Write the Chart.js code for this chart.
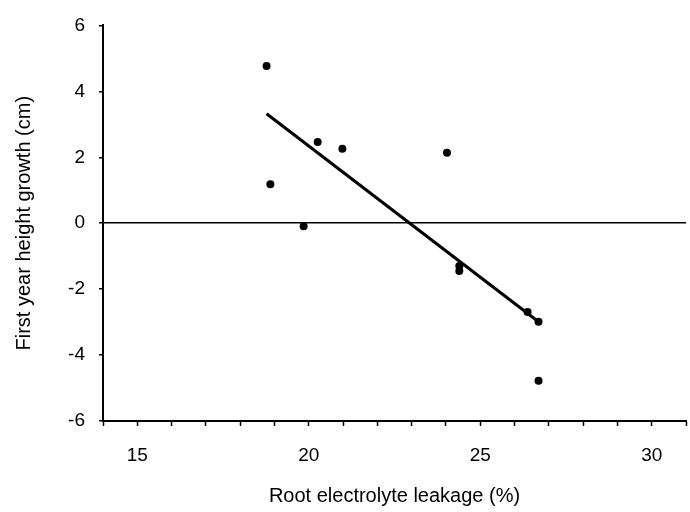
<!DOCTYPE html>
<html>
<head>
<meta charset="utf-8">
<script src="https://cdn.jsdelivr.net/npm/chart.js@4"></script>
<style>
  body { margin: 0; background: #fff; }
  #wrap { width: 690px; height: 512px; }
</style>
</head>
<body>
<div id="wrap"><canvas id="chart" width="690" height="512"></canvas></div>
<script>
// leakage (%) vs first year height growth (cm)
const leakage = [18.77, 18.88, 19.85, 20.26, 20.98, 24.03, 24.39, 24.39, 26.38, 26.7, 26.7];
const growth = [4.77, 1.18, -0.09, 2.46, 2.26, 2.14, -1.3, -1.45, -2.69, -2.99, -4.78];

// fitted line ends
const fitX = [18.77, 26.7];
const fitY = [3.32, -2.99];

const xLabels = [15, 20, 25, 30];
const yLabels = [-6, -4, -2, 0, 2, 4, 6];

const font = { family: 'Liberation Sans, Arial, sans-serif', size: 19 };
const titleFont = { family: 'Liberation Sans, Arial, sans-serif', size: 20 };

const points = leakage.map((x, i) => ({ x: x, y: growth[i] }));
const fitLine = fitX.map((x, i) => ({ x: x, y: fitY[i] }));

new Chart(document.getElementById('chart'), {
  type: 'scatter',
  data: {
    datasets: [
      {
        data: points,
        pointRadius: 4,
        pointBackgroundColor: '#000',
        pointBorderWidth: 0
      },
      {
        type: 'line',
        data: fitLine,
        borderColor: '#000',
        borderWidth: 3,
        pointRadius: 0
      }
    ]
  },
  options: {
    responsive: false,
    animation: false,
    layout: { padding: { top: 25, right: 0, left: 8, bottom: 0 } },
    plugins: { legend: { display: false }, tooltip: { enabled: false } },
    scales: {
      x: {
        type: 'linear',
        min: 14,
        max: 31,
        border: { display: true, color: '#000', width: 2 },
        grid: { drawOnChartArea: false, drawTicks: true, tickLength: 5, tickColor: '#000', tickWidth: 1.5 },
        ticks: {
          stepSize: 1,
          autoSkip: false,
          maxRotation: 0,
          color: '#000',
          font: font,
          padding: 18,
          callback: v => xLabels.includes(v) ? String(v) : ''
        },
        title: {
          display: true,
          text: 'Root electrolyte leakage (%)',
          color: '#000',
          font: titleFont,
          padding: { top: 16 }
        },
        afterFit: s => { s.height = 91; s.paddingRight = 0; }
      },
      y: {
        min: -6,
        max: 6,
        border: { display: true, color: '#000', width: 2 },
        grid: {
          drawOnChartArea: true,
          color: c => c.tick && c.tick.value === 0 ? '#000' : 'rgba(0,0,0,0)',
          lineWidth: 1.5,
          drawTicks: true,
          tickLength: 4,
          tickColor: '#000'
        },
        ticks: {
          stepSize: 2,
          color: '#000',
          font: font,
          padding: 14,
          callback: v => yLabels.includes(v) ? String(v) : ''
        },
        title: {
          display: true,
          text: 'First year height growth (cm)',
          color: '#000',
          font: titleFont,
          padding: { bottom: 10 }
        },
        afterFit: s => { s.width = 95; }
      }
    }
  }
});
</script>
</body>
</html>
